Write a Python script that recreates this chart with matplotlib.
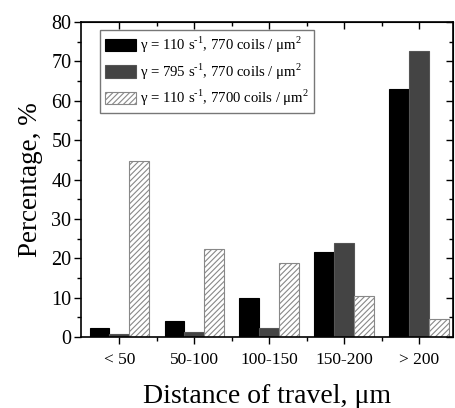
import numpy as np
import matplotlib
matplotlib.use("Agg")
import matplotlib.pyplot as plt
from matplotlib.ticker import MultipleLocator

plt.rcParams['font.family'] = ['Liberation Serif', 'DejaVu Serif']
plt.rcParams['mathtext.fontset'] = 'custom'
plt.rcParams['mathtext.rm'] = 'Liberation Serif'
plt.rcParams['hatch.linewidth'] = 0.8

categories = ['< 50', '50-100', '100-150', '150-200', '> 200']
low_shear = [2.3, 4.0, 10.0, 21.6, 63.0]
high_shear = [0.8, 1.2, 2.3, 23.8, 72.6]
dense = [44.6, 22.3, 18.8, 10.3, 4.5]
labels = [r'γ = 110 s$^{\mathrm{\text{-}1}}$, 770 coils / μm$^{\mathrm{2}}$',
          r'γ = 795 s$^{\mathrm{\text{-}1}}$, 770 coils / μm$^{\mathrm{2}}$',
          r'γ = 110 s$^{\mathrm{\text{-}1}}$, 7700 coils / μm$^{\mathrm{2}}$']

fig = plt.figure(figsize=(4.56, 4.08), dpi=100)
ax = fig.add_axes([0.178, 0.174, 0.815, 0.772])

x = np.arange(1, len(categories) + 1)
w = 0.265
ax.bar(x - w, low_shear, w, color='black', edgecolor='black', lw=0.8, label=labels[0])
ax.bar(x, high_shear, w, color='#444444', edgecolor='#555555', lw=0.8, label=labels[1])
ax.bar(x + w, dense, w, color='white', edgecolor='#888888', hatch='//////', lw=0.8, label=labels[2])

ax.set_xlim(0.49, 5.45)
ax.set_ylim(0, 80)
ax.set_xticks(x)
ax.set_xticklabels(categories)
ax.set_xticks(x[:-1] + 0.5, minor=True)
ax.yaxis.set_major_locator(MultipleLocator(10))
ax.yaxis.set_minor_locator(MultipleLocator(5))
ax.tick_params(axis='both', which='both', direction='out')
ax.tick_params(axis='x', labelsize=12.5, pad=6)
ax.tick_params(axis='y', labelsize=14.5, pad=2)
ax.tick_params(which='major', length=5, width=1)
ax.tick_params(which='minor', length=3, width=1)

# mirrored ticks on top/right pointing inward
axt = ax.secondary_xaxis('top')
axt.set_xticks(x)
axt.set_xticks(x[:-1] + 0.5, minor=True)
axt.tick_params(which='both', direction='in', labeltop=False, width=1)
axt.tick_params(which='major', length=5)
axt.tick_params(which='minor', length=3)
axr = ax.secondary_yaxis('right')
axr.yaxis.set_major_locator(MultipleLocator(10))
axr.yaxis.set_minor_locator(MultipleLocator(5))
axr.tick_params(which='both', direction='in', labelright=False, width=1)
axr.tick_params(which='major', length=5)
axr.tick_params(which='minor', length=3)

for s in ax.spines.values():
    s.set_linewidth(1.2)

ax.set_xlabel('Distance of travel, μm', fontsize=20, labelpad=11)
ax.set_ylabel('Percentage, %', fontsize=19.5, labelpad=6)

leg = ax.legend(loc='upper left', bbox_to_anchor=(0.05, 0.975), fontsize=10.6,
                frameon=True, fancybox=False, edgecolor='#555555',
                handlelength=2.1, handleheight=0.9, handletextpad=0.3,
                labelspacing=0.4, borderpad=0.35, borderaxespad=0)
leg.get_frame().set_linewidth(1.0)

fig.savefig('out.png', dpi=100)
